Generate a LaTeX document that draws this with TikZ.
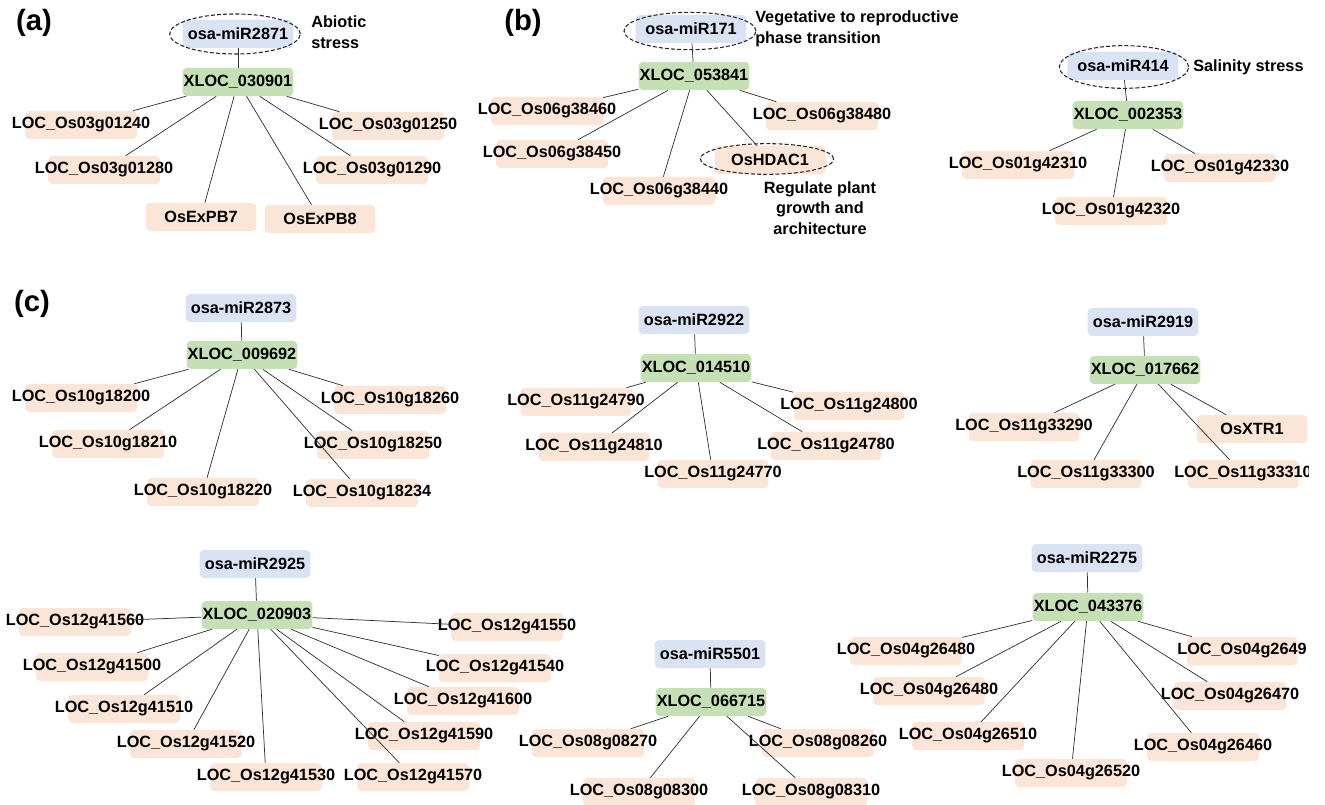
\documentclass[tikz,border=0pt]{standalone}
\usepackage{fontspec}
\setmainfont{Liberation Sans}
\usetikzlibrary{shapes.geometric}

\definecolor{mirblue}{HTML}{DAE3F3}
\definecolor{xgreen}{HTML}{C5E0B4}
\definecolor{genepeach}{HTML}{FBE5D6}

\tikzstyle{every node}=[font=\fontsize{12.2}{15.5}\selectfont\bfseries]
\tikzstyle{box} = [rectangle,rounded corners=3pt,minimum width=83pt,minimum height=21pt,inner xsep=-10pt,inner ysep=0pt]
\tikzstyle{mir} = [box,fill=mirblue]
\tikzstyle{xloc} = [box,fill=xgreen]
\tikzstyle{gene} = [box,fill=genepeach]
\tikzstyle{ring} = [ellipse,draw=black!85,line width=0.8pt,dash pattern=on 3pt off 1.6pt]
\tikzstyle{link} = [draw=black!80,line width=0.55pt]
\tikzstyle{note} = [align=left,anchor=west,inner sep=0pt]
\tikzstyle{tag} = [font=\fontsize{22}{26}\selectfont\bfseries]

\begin{document}
\begin{tikzpicture}[x=0.75pt,y=-0.75pt]
    \useasboundingbox (0,0) rectangle (1325,805);
    \node[tag] (ta) at (34,23) {(a)};
    \node[tag] (tb) at (523,23) {(b)};
    \node[tag] (tc) at (32,304) {(c)};
    % (a) miR2871
    \node[mir] (m1) at (238,34) {osa-miR2871};
    \node[ring,minimum width=98pt,minimum height=30pt] (r1) at (235,34) {};
    \node[note] (n1) at (311,32) {Abiotic\\stress};
    \node[xloc] (x1) at (238,82) {XLOC\_030901};
    \draw[link] (m1) -- (x1);
    \foreach \i/\x/\y/\t in {1/81/125/LOC\_Os03g01240,2/388/126/LOC\_Os03g01250,
        3/104/170/LOC\_Os03g01280,4/372/170/LOC\_Os03g01290,5/201/217/OsExPB7,6/320/219/OsExPB8}
    {\node[gene] (a\i) at (\x,\y) {\t};
    \draw[link] (x1) -- (a\i);}
    % (b) miR171
    \node[mir] (m2) at (691,29) {osa-miR171};
    \node[ring,minimum width=99pt,minimum height=28pt] (r2) at (690,31) {};
    \node[note] (n2) at (755,29) {Vegetative to reproductive\\phase transition};
    \node[xloc] (x2) at (694,76) {XLOC\_053841};
    \draw[link] (m2) -- (x2);
    \foreach \i/\x/\y/\t in {1/547/111/38460,2/822/116/38480,3/552/154/38450,5/659/191/38440}
    {\node[gene] (b\i) at (\x,\y) {LOC\_Os06g\t};
    \draw[link] (x2) -- (b\i);}
    \node[gene] (b4) at (770,160) {OsHDAC1};
    \node[ring,minimum width=100pt,minimum height=23pt] (r4) at (767,159) {};
    \draw[link] (x2) -- (b4);
    \node[align=center] (n3) at (820,208) {Regulate plant\\growth and\\architecture};
    % (b) miR414
    \node[mir] (m3) at (1123,66) {osa-miR414};
    \node[ring,minimum width=97pt,minimum height=32pt] (r3) at (1124,67) {};
    \node[note] (n4) at (1193,67) {Salinity stress};
    \node[xloc] (x3) at (1128,115) {XLOC\_002353};
    \draw[link] (m3) -- (x3);
    \foreach \i/\x/\y/\t in {1/1018/165/42310,2/1220/168/42330,3/1111/211/42320}
    {\node[gene] (c\i) at (\x,\y) {LOC\_Os01g\t};
    \draw[link] (x3) -- (c\i);}
    % (c) miR2873
    \node[mir] (m4) at (241,308) {osa-miR2873};
    \node[xloc] (x4) at (242,355) {XLOC\_009692};
    \draw[link] (m4) -- (x4);
    \foreach \i/\x/\y/\t in {1/81/398/18200,2/390/400/18260,3/108/444/18210,
        4/373/445/18250,5/203/492/18220,6/362/493/18234}
    {\node[gene] (d\i) at (\x,\y) {LOC\_Os10g\t};
    \draw[link] (x4) -- (d\i);}
    % (c) miR2922
    \node[mir] (m5) at (694,320) {osa-miR2922};
    \node[xloc] (x5) at (696,368) {XLOC\_014510};
    \draw[link] (m5) -- (x5);
    \foreach \i/\x/\y/\t in {1/576/402/24790,2/849/406/24800,3/594/447/24810,
        4/826/446/24780,5/713/474/24770}
    {\node[gene] (e\i) at (\x,\y) {LOC\_Os11g\t};
    \draw[link] (x5) -- (e\i);}
    % (c) miR2919
    \begin{scope}
    \clip (880,290) rectangle (1308,520);
    \node[mir] (m6) at (1143,322) {osa-miR2919};
    \node[xloc] (x6) at (1145,370) {XLOC\_017662};
    \draw[link] (m6) -- (x6);
    \foreach \i/\x/\y/\t in {1/1024/427/LOC\_Os11g33290,2/1252/429/OsXTR1,
        3/1086/474/LOC\_Os11g33300,4/1243/474/LOC\_Os11g33310}
    {\node[gene] (f\i) at (\x,\y) {\t};
    \draw[link] (x6) -- (f\i);}
    \end{scope}
    % (c) miR2925
    \node[mir] (m7) at (255,564) {osa-miR2925};
    \node[xloc] (x7) at (257,615) {XLOC\_020903};
    \draw[link] (m7) -- (x7);
    \foreach \i/\x/\y/\t in {1/75/622/41560,2/507/627/41550,3/92/667/41500,
        4/495/668/41540,5/124/709/41510,6/463/701/41600,7/186/744/41520,
        8/424/736/41590,9/266/777/41530,10/413/777/41570}
    {\node[gene] (g\i) at (\x,\y) {LOC\_Os12g\t};
    \draw[link] (x7) -- (g\i);}
    % (c) miR5501
    \node[mir] (m8) at (710,654) {osa-miR5501};
    \node[xloc] (x8) at (711,702) {XLOC\_066715};
    \draw[link] (m8) -- (x8);
    \foreach \i/\x/\y/\t in {1/588/743/08270,2/818/743/08260,3/639/792/08300,4/811/792/08310}
    {\node[gene] (h\i) at (\x,\y) {LOC\_Os08g\t};
    \draw[link] (x8) -- (h\i);}
    % (c) miR2275
    \node[mir] (m9) at (1087,558) {osa-miR2275};
    \node[xloc] (x9) at (1088,607) {XLOC\_043376};
    \draw[link] (m9) -- (x9);
    \foreach \i/\x/\y/\t in {1/906/651/26480,2/1242/651/2649,3/929/691/26480,
        4/1230/696/26470,5/968/736/26510,6/1203/747/26460,7/1071/773/26520}
    {\node[gene] (i\i) at (\x,\y) {LOC\_Os04g\t};
    \draw[link] (x9) -- (i\i);}
\end{tikzpicture}
\end{document}
